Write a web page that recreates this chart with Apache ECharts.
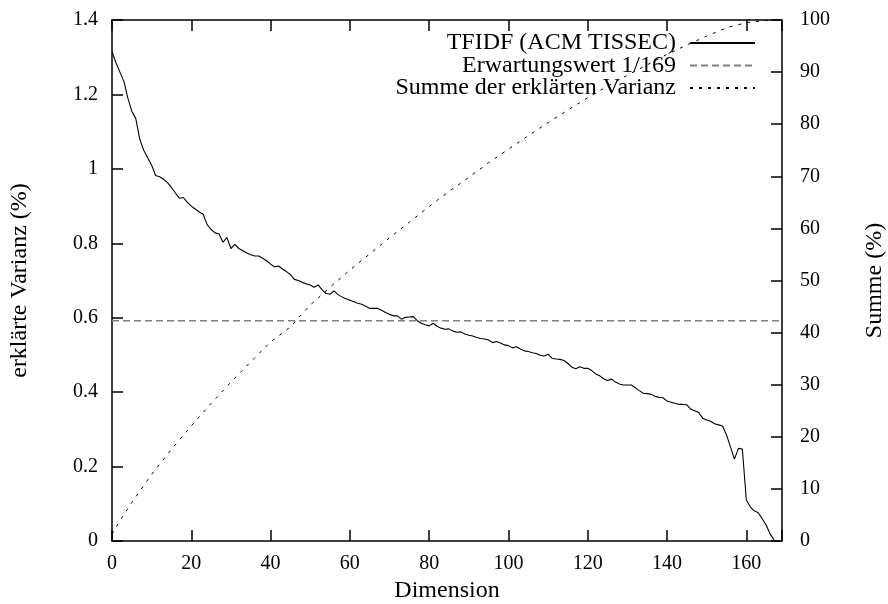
<!DOCTYPE html>
<html><head><meta charset="utf-8">
<script src="https://cdn.jsdelivr.net/npm/echarts@6/dist/echarts.min.js"></script>
<style>html,body{margin:0;padding:0;background:#fff}#c{width:888px;height:604px}</style>
</head><body><div id="c"></div>
<script>
// explained variance (%) per dimension, dimension = index 0..167
const variance = [
  1.315,1.285,1.26,1.235,1.19,1.155,1.135,1.08,1.05,1.03,
  1.01,0.982,0.979,0.972,0.963,0.95,0.935,0.921,0.923,0.91,
  0.90,0.892,0.884,0.878,0.85,0.837,0.828,0.825,0.803,0.815,
  0.786,0.797,0.786,0.78,0.774,0.769,0.766,0.766,0.76,0.753,
  0.744,0.737,0.739,0.731,0.724,0.716,0.703,0.70,0.695,0.691,
  0.688,0.682,0.688,0.675,0.665,0.663,0.672,0.662,0.656,0.651,
  0.647,0.643,0.639,0.636,0.631,0.625,0.625,0.625,0.62,0.614,
  0.609,0.605,0.605,0.596,0.601,0.602,0.603,0.592,0.585,0.581,
  0.578,0.585,0.577,0.572,0.569,0.570,0.564,0.561,0.562,0.556,
  0.553,0.551,0.547,0.544,0.543,0.540,0.533,0.536,0.532,0.527,
  0.525,0.519,0.522,0.516,0.511,0.509,0.506,0.504,0.499,0.497,
  0.502,0.491,0.489,0.488,0.485,0.477,0.467,0.463,0.468,0.464,
  0.464,0.458,0.449,0.444,0.436,0.431,0.435,0.427,0.422,0.419,
  0.419,0.419,0.412,0.404,0.397,0.396,0.394,0.389,0.386,0.385,
  0.376,0.373,0.370,0.367,0.367,0.366,0.354,0.350,0.345,0.330,
  0.325,0.322,0.315,0.312,0.309,0.285,0.253,0.220,0.249,0.247,
  0.110,0.092,0.081,0.076,0.060,0.043,0.019,0.003
];
// cumulative explained variance (%)
const sumDims   = [0,2,5,10,15,20,25,30,35,40,45,50,55,60,65,70,75,80,85,90,95,100,105,110,115,120,125,130,135,140,145,150,155,160,165,167];
const sumValues = [1.3,3.9,7.4,12.8,17.6,22.1,26.4,30.5,34.4,38.2,41.1,45.3,48.7,52.0,55.1,58.2,61.2,64.2,67.1,69.8,72.6,75.2,77.8,80.3,82.7,85.1,87.3,89.4,91.4,93.4,95.2,96.9,98.5,99.5,99.9,100];
const expectedValue = 0.592;   // 1/169 in %
const expectedDims = [0, 169];

const seriesNames = ['TFIDF (ACM TISSEC)', 'Erwartungswert 1/169', 'Summe der erklärten Varianz'];
const xTicks = [0,20,40,60,80,100,120,140,160];

const FONT = 'Liberation Serif';
const chart = echarts.init(document.getElementById('c'), null, {renderer: 'canvas'});
const axisLineStyle = {color: '#000', width: 1.5};
const tickStyle = {show: true, inside: true, length: 11, lineStyle: {color: '#000', width: 1.5}};
chart.setOption({
  animation: false,
  backgroundColor: '#fff',
  grid: {left: 112, top: 20, right: 106, bottom: 63, outerBoundsMode: 'none', containLabel: false},
  legend: {
    right: 132, top: 31, orient: 'vertical', align: 'right', padding: 0,
    itemWidth: 65, itemHeight: 14, itemGap: -1.5,
    selectedMode: false,
    itemStyle: {opacity: 0, borderWidth: 0},
    textStyle: {fontFamily: FONT, fontSize: 24, lineHeight: 23, color: '#000', padding: [0, 9, 0, 0]},
    data: seriesNames
  },
  xAxis: [{
    type: 'value', min: 0, max: 169, interval: 20, position: 'bottom',
    name: 'Dimension', nameLocation: 'middle', nameGap: 38,
    nameTextStyle: {fontFamily: FONT, fontSize: 24, color: '#000'},
    axisLine: {show: true, onZero: false, lineStyle: axisLineStyle},
    axisTick: tickStyle,
    axisLabel: {fontFamily: FONT, fontSize: 20, color: '#000', margin: 13,
      formatter: v => xTicks.includes(v) ? String(v) : ''},
    splitLine: {show: false}
  }, {
    type: 'value', min: 0, max: 169, interval: 20, position: 'top',
    axisLine: {show: true, onZero: false, lineStyle: axisLineStyle},
    axisTick: tickStyle, axisLabel: {show: false}, splitLine: {show: false}
  }],
  yAxis: [{
    type: 'value', min: 0, max: 1.4, interval: 0.2, position: 'left',
    name: 'erklärte Varianz (%)', nameLocation: 'middle', nameGap: 80, nameRotate: 90,
    nameTextStyle: {fontFamily: FONT, fontSize: 24, color: '#000'},
    axisLine: {show: true, onZero: false, lineStyle: axisLineStyle},
    axisTick: tickStyle,
    axisLabel: {fontFamily: FONT, fontSize: 20, color: '#000', margin: 14},
    splitLine: {show: false}
  }, {
    type: 'value', min: 0, max: 100, interval: 10, position: 'right',
    name: 'Summe (%)', nameLocation: 'middle', nameGap: 81, nameRotate: 90,
    nameTextStyle: {fontFamily: FONT, fontSize: 24, color: '#000'},
    axisLine: {show: true, onZero: false, lineStyle: axisLineStyle},
    axisTick: tickStyle,
    axisLabel: {fontFamily: FONT, fontSize: 20, color: '#000', margin: 18},
    splitLine: {show: false}
  }],
  series: [{
    name: seriesNames[0], type: 'line', xAxisIndex: 0, yAxisIndex: 0,
    symbol: 'none', data: variance.map((v, i) => [i, v]),
    lineStyle: {color: '#000', width: 1.1}, itemStyle: {color: '#000'}, z: 3
  }, {
    name: seriesNames[1], type: 'line', xAxisIndex: 0, yAxisIndex: 0,
    symbol: 'none', data: expectedDims.map(d => [d, expectedValue]),
    lineStyle: {color: '#808080', width: 1.5, type: [7, 4]}, itemStyle: {color: '#808080'}, z: 2
  }, {
    name: seriesNames[2], type: 'line', xAxisIndex: 0, yAxisIndex: 1,
    symbol: 'none', data: sumDims.map((d, i) => [d, sumValues[i]]),
    lineStyle: {color: '#000', width: 1, type: [3, 6]}, itemStyle: {color: '#000'}, z: 2
  }]
});
</script>
</body></html>
